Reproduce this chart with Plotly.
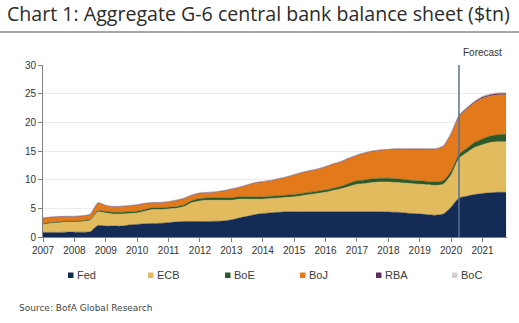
import plotly.graph_objects as go

# Quarterly observations, 2007Q1 .. 2021Q4 (decimal years)
years = [2007 + 0.25 * i for i in range(60)]

fed = [0.8, 0.8, 0.8, 0.85,
       0.85, 0.85, 0.9, 2.0,
       1.9, 1.9, 1.9, 2.1,
       2.2, 2.3, 2.35, 2.4,
       2.5, 2.6, 2.7, 2.7,
       2.7, 2.7, 2.75, 2.8,
       3.0, 3.3, 3.6, 3.9,
       4.1, 4.2, 4.3, 4.4,
       4.4, 4.4, 4.4, 4.4,
       4.4, 4.4, 4.4, 4.4,
       4.4, 4.4, 4.4, 4.4,
       4.35, 4.3, 4.2, 4.1,
       4.0, 3.9, 3.8, 4.0,
       5.2, 6.8, 7.1, 7.4,
       7.6, 7.7, 7.8, 7.8]

ecb = [1.4, 1.6, 1.7, 1.75,
       1.75, 1.85, 2.0, 2.4,
       2.3, 2.1, 2.1, 2.0,
       2.0, 2.2, 2.45, 2.4,
       2.4, 2.4, 2.6, 3.3,
       3.6, 3.7, 3.65, 3.6,
       3.4, 3.3, 3.0, 2.7,
       2.5, 2.5, 2.5, 2.5,
       2.6, 2.8, 3.0, 3.2,
       3.4, 3.7, 4.0, 4.4,
       4.8, 4.9, 5.1, 5.2,
       5.25, 5.2, 5.2, 5.2,
       5.2, 5.2, 5.2, 5.2,
       5.6, 6.9, 7.6, 8.2,
       8.5, 8.8, 8.8, 8.8]

boe = [0.12, 0.12, 0.12, 0.15,
       0.15, 0.15, 0.15, 0.2,
       0.25, 0.3, 0.3, 0.3,
       0.3, 0.3, 0.3, 0.3,
       0.3, 0.3, 0.3, 0.35,
       0.4, 0.4, 0.4, 0.4,
       0.4, 0.4, 0.4, 0.4,
       0.4, 0.4, 0.4, 0.4,
       0.4, 0.4, 0.4, 0.4,
       0.4, 0.4, 0.45, 0.55,
       0.6, 0.65, 0.65, 0.65,
       0.65, 0.65, 0.65, 0.6,
       0.6, 0.6, 0.6, 0.6,
       0.65, 0.7, 0.8, 0.9,
       1.0, 1.1, 1.25, 1.3]

boj = [0.95, 0.9, 0.9, 0.8,
       0.8, 0.8, 0.85, 1.3,
       1.0, 0.95, 1.0, 1.0,
       1.05, 1.0, 0.85, 0.85,
       0.9, 1.05, 1.1, 0.9,
       0.9, 0.9, 1.0, 1.2,
       1.5, 1.6, 2.0, 2.4,
       2.6, 2.7, 2.9, 3.1,
       3.4, 3.6, 3.7, 3.8,
       4.0, 4.2, 4.25, 4.35,
       4.4, 4.65, 4.75, 4.85,
       4.95, 5.15, 5.25, 5.4,
       5.5, 5.6, 5.7, 6.0,
       6.55, 6.6, 6.8, 6.9,
       7.1, 7.0, 6.95, 6.9]

rba = [0.05, 0.05, 0.05, 0.05,
       0.05, 0.05, 0.05, 0.06,
       0.06, 0.06, 0.06, 0.06,
       0.07, 0.07, 0.07, 0.07,
       0.07, 0.07, 0.07, 0.07,
       0.07, 0.07, 0.07, 0.07,
       0.07, 0.07, 0.07, 0.07,
       0.07, 0.07, 0.07, 0.07,
       0.07, 0.07, 0.07, 0.07,
       0.07, 0.07, 0.07, 0.07,
       0.08, 0.08, 0.08, 0.08,
       0.08, 0.08, 0.08, 0.08,
       0.08, 0.08, 0.08, 0.08,
       0.1, 0.14, 0.16, 0.18,
       0.2, 0.22, 0.22, 0.22]

boc = [0.05, 0.05, 0.05, 0.05,
       0.05, 0.05, 0.05, 0.06,
       0.06, 0.06, 0.06, 0.06,
       0.06, 0.06, 0.06, 0.06,
       0.06, 0.06, 0.06, 0.06,
       0.06, 0.06, 0.06, 0.06,
       0.06, 0.06, 0.06, 0.06,
       0.06, 0.06, 0.06, 0.06,
       0.06, 0.06, 0.06, 0.06,
       0.06, 0.06, 0.06, 0.06,
       0.06, 0.06, 0.06, 0.06,
       0.06, 0.06, 0.06, 0.06,
       0.06, 0.06, 0.06, 0.06,
       0.08, 0.18, 0.2, 0.2,
       0.2, 0.2, 0.2, 0.2]

series_names = ["Fed", "ECB", "BoE", "BoJ", "RBA", "BoC"]
series_values = [fed, ecb, boe, boj, rba, boc]
colors = ["#142c55", "#e3bb5f", "#2d5a2a", "#e27a1c", "#5c2d5e", "#d6d0d0"]

tick_years = list(range(2007, 2022))
y_ticks = [0, 5, 10, 15, 20, 25, 30]
forecast_start = 2020.25

fig = go.Figure()
for name, vals, col in zip(series_names, series_values, colors):
    fig.add_trace(go.Scatter(
        x=years, y=vals, name=name, mode="lines",
        stackgroup="one", fillcolor=col,
        line=dict(color=col, width=0.5, shape="spline", smoothing=0.6),
        showlegend=False,
    ))

# plot area geometry (px) for annotation placement
L, R, T, B = 43, 507, 65, 237
W, H = 519, 323
def px(x):
    return (x - L) / (R - L)
def py(y):
    return (B - y) / (B - T)

shapes = [
    dict(type="line", xref="x", yref="y domain", x0=forecast_start, x1=forecast_start,
         y0=0, y1=1, line=dict(color="#5a7190", width=1.5), layer="above"),
    dict(type="line", xref="paper", yref="paper", x0=px(0), x1=px(519),
         y0=py(32), y1=py(32), line=dict(color="#8a8a8a", width=1.5)),
]
annotations = [
    dict(text="Chart 1: Aggregate G-6 central bank balance sheet ($tn)",
         xref="paper", yref="paper", x=px(5), y=py(14), xanchor="left", yanchor="middle",
         showarrow=False, font=dict(family="Open Sans", size=19.6, color="#2b2b2b")),
    dict(text="Forecast", xref="x", yref="paper", x=2021.0, y=py(52),
         xanchor="center", yanchor="middle", showarrow=False,
         font=dict(family="Liberation Sans", size=10, color="#333333")),
    dict(text="Source: BofA Global Research", xref="paper", yref="paper",
         x=px(17), y=py(308), xanchor="left", yanchor="middle", showarrow=False,
         font=dict(family="DejaVu Sans", size=9, color="#444444")),
]

legend_x = [68, 148, 225, 300, 376, 452]
legend_y = 275
for name, col, lx in zip(series_names, colors, legend_x):
    shapes.append(dict(type="rect", xref="paper", yref="paper",
                       x0=px(lx), x1=px(lx + 5.5), y0=py(legend_y + 3), y1=py(legend_y - 2.5),
                       fillcolor=col, line=dict(width=0)))
    annotations.append(dict(text=name, xref="paper", yref="paper",
                            x=px(lx + 6.5), y=py(legend_y), xanchor="left", yanchor="middle",
                            showarrow=False,
                            font=dict(family="Liberation Sans", size=11, color="#3a3a3a")))

fig.update_layout(
    width=W, height=H,
    margin=dict(l=L, r=W - R, t=T, b=H - B, pad=0),
    paper_bgcolor="white", plot_bgcolor="white",
    showlegend=False,
    xaxis=dict(range=[2007, 2021.78], tickvals=tick_years, ticktext=[str(y) for y in tick_years],
               showgrid=False, zeroline=False, showline=True, linecolor="#7f7f7f", linewidth=1,
               ticks="outside", ticklen=4, tickcolor="#7f7f7f",
               tickfont=dict(family="Liberation Sans", size=10, color="#333333")),
    yaxis=dict(range=[0, 30], tickvals=y_ticks, showgrid=True, gridcolor="#ececec", gridwidth=1,
               zeroline=False, showline=True, linecolor="#7f7f7f", linewidth=1,
               ticks="outside", ticklen=4, tickcolor="#7f7f7f",
               tickfont=dict(family="Liberation Sans", size=10, color="#333333")),
    shapes=shapes, annotations=annotations,
)

fig.write_html("out.html")
